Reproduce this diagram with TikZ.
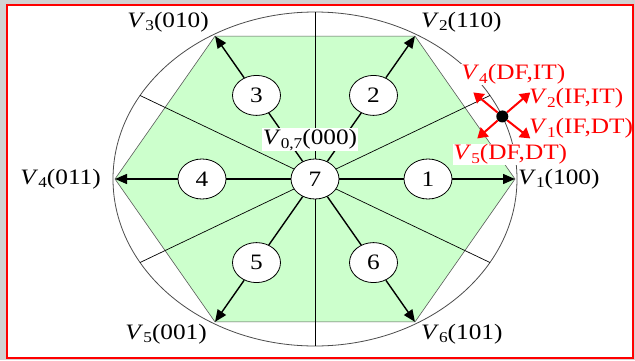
\documentclass[tikz,border=0pt]{standalone}
\usepackage{fontspec}
\setmainfont{Liberation Serif}[FakeStretch=1.15]
\usetikzlibrary{positioning, calc, shapes.geometric, arrows.meta}

\newcommand{\Vs}[1]{\textit{V}\raisebox{-0.35ex}{\fontsize{15}{15}\selectfont #1}}

\tikzset{
  sector/.style={draw, ellipse, fill=white, line width=0.8pt, minimum width=48pt, minimum height=40pt, inner sep=0pt, font=\fontsize{22}{22}\selectfont},
  vlabel/.style={inner sep=1pt, font=\fontsize{22}{22}\selectfont},
  rlabel/.style={vlabel, inner sep=0.5pt, text=red},
  vecarrow/.style={line width=1.4pt, -{Triangle[length=12pt,width=10pt]}},
  redarrow/.style={red, line width=2pt, -{Triangle[length=10pt,width=12pt]}},
}

\begin{document}
\begin{tikzpicture}[x=1pt, y=1pt]
    % Frame
    \fill[gray!35] (0,0) rectangle (635,360);
    \draw[red, line width=1.2pt, fill=white] (7,2) rectangle (633,355);
    \useasboundingbox (0,0) rectangle (635,360);

    \coordinate (O) at (315,181);
    % Hexagon
    \foreach \k in {1,...,6} {
        \coordinate (v\k) at ($(O)+({(\k-1)*60}:200 and 165)$);
    }
    \fill[green!20] (v1) -- (v2) -- (v3) -- (v4) -- (v5) -- (v6) -- cycle;
    \draw[gray!70!black, line width=0.6pt] (v1) -- (v2) -- (v3) -- (v4) -- (v5) -- (v6) -- cycle;
    \draw[gray!60!black, line width=0.8pt] (O) ellipse [x radius=202, y radius=167];

    % Sectors
    \node[sector] (c7) at (O) {7};
    \foreach \k/\f in {1/0.565, 2/0.585, 3/0.585, 4/0.565, 5/0.585, 6/0.585} {
        \node[sector] (c\k) at ($(O)!\f!(v\k)$) {\k};
    }

    % Active vectors
    \foreach \k in {1,...,6} {
        \draw[line width=1.4pt] (c7) -- (c\k);
        \draw[vecarrow] (c\k) -- (v\k);
    }

    % Sector borders
    \foreach \a in {30,90,...,330} {
        \coordinate (e\a) at ($(O)+(\a:202 and 167)$);
        \draw[line width=0.7pt] (c7) -- (e\a);
    }

    % Vector labels
    \node[vlabel, right=2pt of v1] {\Vs{1}(100)};
    \node[vlabel, above right=3pt and 5pt of v2] {\Vs{2}(110)};
    \node[vlabel, above left=3pt and 5pt of v3] {\Vs{3}(010)};
    \node[vlabel, left=13pt of v4] {\Vs{4}(011)};
    \node[vlabel, below left=1pt and 7pt of v5] {\Vs{5}(001)};
    \node[vlabel, below right=1pt and 5pt of v6] {\Vs{6}(101)};
    \node[vlabel, fill=white, above=7pt of c7, xshift=-5pt] {\Vs{0,7}(000)};

    % Boundary point
    \node[circle, fill=black, inner sep=0pt, minimum size=12pt] (dot) at ($(O)+(22:202 and 167)$) {};
    \coordinate (tDFIT) at ($(dot)+(-29,24)$);
    \coordinate (tIFIT) at ($(dot)+(28,24)$);
    \coordinate (tIFDT) at ($(dot)+(28,-22)$);
    \coordinate (tDFDT) at ($(dot)+(-25,-22)$);
    \foreach \t in {tDFIT, tIFIT, tIFDT, tDFDT} {
        \draw[redarrow] (dot) -- (\t);
    }
    \node[rlabel, fill=white, above=25pt of dot, xshift=11pt] {\Vs{4}(DF,IT)};
    \node[rlabel, right=20pt of dot, yshift=18pt] {\Vs{2}(IF,IT)};
    \node[rlabel, right=20pt of dot, yshift=-12pt] {\Vs{1}(IF,DT)};
    \node[rlabel, fill=white, below=21pt of dot, xshift=8pt] {\Vs{5}(DF,DT)};
\end{tikzpicture}
\end{document}
